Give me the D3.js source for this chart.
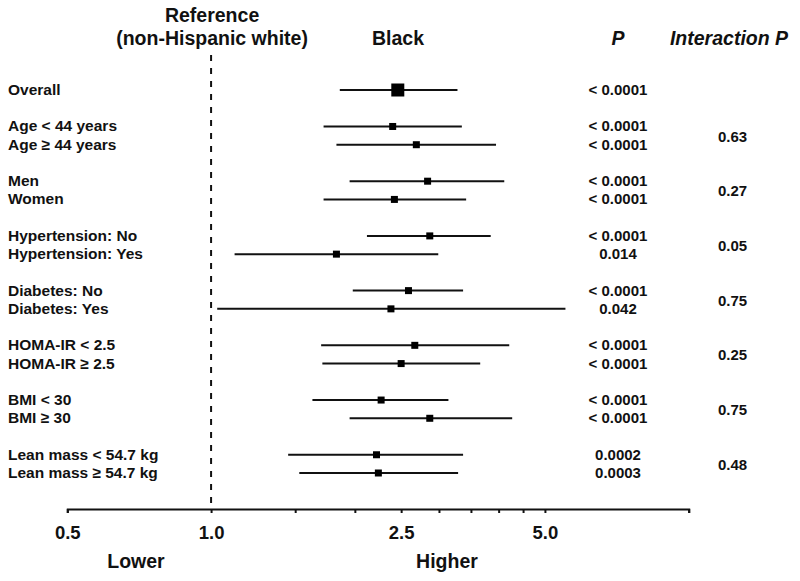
<!DOCTYPE html>
<html>
<head>
<meta charset="utf-8">
<script src="https://cdn.jsdelivr.net/npm/d3@7"></script>
<style>
  html, body { margin: 0; padding: 0; background: #fff; }
  svg { display: block; font-family: "Liberation Sans", Arial, sans-serif; }
</style>
</head>
<body>
<svg id="chart" width="800" height="581"></svg>
<script>
// ---------- data ----------
const categories = [
  "Overall",
  "Age < 44 years", "Age \u2265 44 years",
  "Men", "Women",
  "Hypertension: No", "Hypertension: Yes",
  "Diabetes: No", "Diabetes: Yes",
  "HOMA-IR < 2.5", "HOMA-IR \u2265 2.5",
  "BMI < 30", "BMI \u2265 30",
  "Lean mass < 54.7 kg", "Lean mass \u2265 54.7 kg"
];
const groupOf = [0, 1, 1, 2, 2, 3, 3, 4, 4, 5, 5, 6, 6, 7, 7];
const estimate = [2.46, 2.40, 2.69, 2.84, 2.42, 2.87, 1.83, 2.59, 2.38, 2.67, 2.50, 2.27, 2.87, 2.22, 2.24];
const lowerCI  = [1.86, 1.72, 1.83, 1.95, 1.72, 2.12, 1.12, 1.98, 1.03, 1.70, 1.71, 1.63, 1.95, 1.45, 1.53];
const upperCI  = [3.28, 3.35, 3.95, 4.11, 3.42, 3.85, 2.99, 3.37, 5.52, 4.21, 3.66, 3.14, 4.27, 3.37, 3.29];
const pValues = [
  "< 0.0001",
  "< 0.0001", "< 0.0001",
  "< 0.0001", "< 0.0001",
  "< 0.0001", "0.014",
  "< 0.0001", "0.042",
  "< 0.0001", "< 0.0001",
  "< 0.0001", "< 0.0001",
  "0.0002", "0.0003"
];
const interactionGroups = [1, 2, 3, 4, 5, 6, 7];
const interactionP = ["0.63", "0.27", "0.05", "0.75", "0.25", "0.75", "0.48"];
const tickValues = [0.5, 1, 1.5, 2, 2.5, 3, 3.5, 4, 4.5, 5, 10];
const tickLabelValues = [0.5, 1, 2.5, 5];
const tickLabels = ["0.5", "1.0", "2.5", "5.0"];
const xDomain = [0.5, 10];
const referenceValue = 1;

// ---------- layout ----------
const svg = d3.select("#chart");
const ink = "#111";
const axisY = 509;

const x = d3.scaleLog().domain(xDomain).range([67.3, 688.7]);
// row slot index: each new group adds a blank row
const slot = categories.map((c, i) => i + groupOf[i]);
const y = d3.scaleLinear().domain([0, 21]).range([90, 473]);

const rows = categories.map((c, i) => ({
  label: c, est: estimate[i], lo: lowerCI[i], hi: upperCI[i], p: pValues[i], s: slot[i], i
}));

// reference dashed line
svg.append("line")
  .attr("x1", x(referenceValue)).attr("x2", x(referenceValue))
  .attr("y1", 55).attr("y2", axisY)
  .attr("stroke", ink).attr("stroke-width", 2)
  .attr("stroke-dasharray", "6,7");

// headers
const hdr = svg.append("g").attr("fill", ink).attr("font-weight", "bold").attr("font-size", 19.5)
  .attr("text-anchor", "middle");
hdr.append("text").attr("x", x(referenceValue) + 1).attr("y", 22).text("Reference");
hdr.append("text").attr("x", x(referenceValue) + 1).attr("y", 45).text("(non-Hispanic white)");
hdr.append("text").attr("x", 398).attr("y", 45).text("Black");
hdr.append("text").attr("x", 618).attr("y", 45).attr("font-style", "italic").text("P");
hdr.append("text").attr("x", 729).attr("y", 45).attr("font-style", "italic").text("Interaction P");

// row labels
svg.append("g").selectAll("text").data(rows).join("text")
  .attr("x", 8).attr("y", d => y(d.s) + 5)
  .attr("fill", ink).attr("font-weight", "bold").attr("font-size", 15.5)
  .text(d => d.label);

// CI lines
svg.append("g").selectAll("line").data(rows).join("line")
  .attr("x1", d => x(d.lo)).attr("x2", d => x(d.hi))
  .attr("y1", d => y(d.s)).attr("y2", d => y(d.s))
  .attr("stroke", ink).attr("stroke-width", 2);

// point estimates
svg.append("g").selectAll("rect").data(rows).join("rect")
  .each(function(d) {
    const sz = d.i === 0 ? 13 : 7;
    d3.select(this)
      .attr("x", x(d.est) - sz / 2).attr("y", y(d.s) - sz / 2)
      .attr("width", sz).attr("height", sz);
  })
  .attr("fill", "#000");

// P values
svg.append("g").selectAll("text").data(rows).join("text")
  .attr("x", 618).attr("y", d => y(d.s) + 5)
  .attr("text-anchor", "middle")
  .attr("fill", ink).attr("font-weight", "bold").attr("font-size", 15)
  .text(d => d.p);

// interaction P values
svg.append("g").selectAll("text").data(interactionGroups).join("text")
  .attr("x", 732.5)
  .attr("y", (g, k) => {
    const idx = rows.filter(r => groupOf[r.i] === g).map(r => y(r.s));
    return d3.mean(idx) + 6;
  })
  .attr("text-anchor", "middle")
  .attr("fill", ink).attr("font-weight", "bold").attr("font-size", 15)
  .text((g, k) => interactionP[k]);

// x axis
const axis = d3.axisBottom(x)
  .tickValues(tickValues)
  .tickSize(4)
  .tickSizeOuter(4)
  .tickPadding(13)
  .tickFormat(v => {
    const k = tickLabelValues.indexOf(v);
    return k >= 0 ? tickLabels[k] : "";
  });
const ax = svg.append("g").attr("transform", `translate(0,${axisY})`).call(axis);
ax.select(".domain").attr("stroke", ink).attr("stroke-width", 2);
ax.selectAll(".tick line").attr("stroke", ink).attr("stroke-width", 2);
ax.selectAll(".tick text")
  .attr("fill", ink).attr("font-weight", "bold").attr("font-size", 18.5)
  .attr("font-family", "'Liberation Sans', Arial, sans-serif");

// direction labels
const dir = svg.append("g").attr("fill", ink).attr("font-weight", "bold").attr("font-size", 19.5)
  .attr("text-anchor", "middle");
dir.append("text").attr("x", 136).attr("y", 568).text("Lower");
dir.append("text").attr("x", 447).attr("y", 568).text("Higher");
</script>
</body>
</html>
